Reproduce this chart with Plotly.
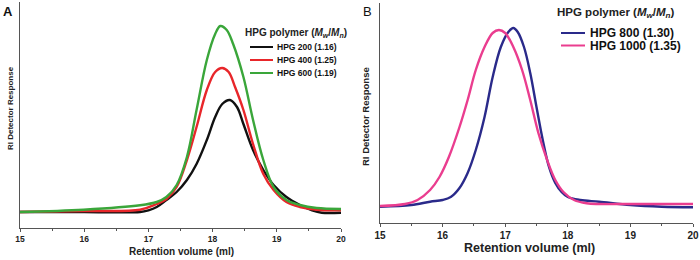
import plotly.graph_objects as go

# ---------------- data ----------------
# Panel A
a_x_200 = [15.0, 16.0, 16.87, 17.0, 17.13, 17.28, 17.44, 17.6, 17.75, 17.91, 18.04, 18.15, 18.27, 18.38, 18.48, 18.63, 18.79, 18.95, 19.15, 19.36, 19.55, 19.7, 20.0]
a_y_200 = [0, 0, 0, 1.7, 5, 12, 20, 32, 48, 72, 95, 108, 112, 105, 88, 62, 42, 27, 15, 7, 1.7, -0.7, -0.7]

a_x_400 = [15.0, 16.0, 16.87, 17.13, 17.28, 17.44, 17.6, 17.75, 17.91, 18.04, 18.15, 18.25, 18.35, 18.48, 18.63, 18.79, 18.95, 19.15, 19.36, 19.62, 20.0]
a_y_400 = [0, 1, 2.3, 8, 13, 25, 52, 85, 122, 140, 144, 140, 125, 102, 68, 38, 22, 10, 5, 2.3, 1.7]

a_x_600 = [15.0, 15.99, 16.87, 17.13, 17.28, 17.44, 17.6, 17.75, 17.91, 18.04, 18.12, 18.22, 18.32, 18.48, 18.63, 18.79, 18.95, 19.15, 19.36, 19.62, 20.0]
a_y_600 = [0, 2.3, 6.7, 10, 15, 27, 55, 102, 152, 178, 186, 182, 168, 135, 92, 52, 25, 12, 7, 4, 3]

# Panel B
b_x_800 = [15.0, 15.5, 15.8, 16.0, 16.13, 16.27, 16.4, 16.53, 16.67, 16.8, 16.93, 17.05, 17.13, 17.2, 17.3, 17.4, 17.5, 17.6, 17.7, 17.8, 17.9, 18.0, 18.2, 18.5, 19.0, 19.5, 20.0]
b_y_800 = [-1.7, 0, 3.3, 5, 8, 17, 32, 55, 88, 128, 158, 173, 177, 173, 158, 132, 98, 65, 38, 22, 13, 8, 5, 3.3, 0, -1.7, -2.3]

b_x_1000 = [15.0, 15.4, 15.6, 15.8, 15.95, 16.1, 16.27, 16.4, 16.53, 16.67, 16.8, 16.9, 17.0, 17.13, 17.27, 17.4, 17.53, 17.67, 17.8, 17.93, 18.1, 18.3, 18.5, 19.0, 20.0]
b_y_1000 = [-1, 1, 5, 15, 28, 48, 78, 105, 135, 158, 172, 175, 172, 158, 135, 105, 72, 45, 25, 13, 5, 1.7, 1, 1, 1]

names_a = ["HPG 200 (1.16)", "HPG 400 (1.25)", "HPG 600 (1.19)"]
names_b = ["HPG 800 (1.30)", "HPG 1000 (1.35)"]
x_ticks = [15, 16, 17, 18, 19, 20]
x_tick_labels = ["15", "16", "17", "18", "19", "20"]

# ---------------- styles ----------------
FONT = "Arial, 'Liberation Sans', sans-serif"
col_a = ["#111111", "#e8262a", "#3aa63a"]
col_b = ["#2a2a8a", "#ea3d8f"]
AXC = "#555555"

fig = go.Figure()
for xs, ys, nm, c in zip([a_x_200, a_x_400, a_x_600], [a_y_200, a_y_400, a_y_600], names_a, col_a):
    fig.add_trace(go.Scatter(x=xs, y=ys, name=nm, mode="lines", line=dict(color=c, width=2.4, shape="spline", smoothing=1.0),
                             xaxis="x", yaxis="y", showlegend=False))
for xs, ys, nm, c in zip([b_x_800, b_x_1000], [b_y_800, b_y_1000], names_b, col_b):
    fig.add_trace(go.Scatter(x=xs, y=ys, name=nm, mode="lines", line=dict(color=c, width=2.4, shape="spline", smoothing=1.0),
                             xaxis="x2", yaxis="y2", showlegend=False))

def xax(domain, anchor, size):
    return dict(domain=domain, anchor=anchor, range=[15, 20], tickvals=x_ticks, ticktext=x_tick_labels,
                ticks="outside", ticklen=3, tickwidth=1, tickcolor=AXC, showline=True, linecolor=AXC, linewidth=1.3,
                showgrid=False, zeroline=False,
                tickfont=dict(family=FONT, size=size, color="#222", weight="bold"),
                minor=dict(tickvals=[15.5, 16.5, 17.5, 18.5, 19.5], ticks="outside", ticklen=2, tickcolor=AXC))

def yax(domain, anchor, rng):
    return dict(domain=domain, anchor=anchor, range=rng, showticklabels=False, ticks="", showline=True,
                linecolor=AXC, linewidth=1.3, showgrid=False, zeroline=False)

W, H = 700, 260
ML, MR, MT, MB = 20, 7, 2, 32
PW, PH = W - ML - MR, H - MT - MB

def px(x):
    return (x - ML) / PW

def py(y):
    return 1 - (y - MT) / PH

fig.update_layout(
    width=W, height=H, margin=dict(l=ML, r=MR, t=MT, b=MB),
    paper_bgcolor="white", plot_bgcolor="white", showlegend=False,
    xaxis=xax([0, px(341)], "y", 8.5),
    yaxis=yax([0, 1], "x", [-16, 210]),
    xaxis2=xax([px(380), px(693)], "y2", 10),
    yaxis2=yax([py(223), py(3)], "x2", [-18, 202]),
)

ann = []
def text(x, y, s, size, bold=True, xanchor="center", textangle=0, color="#222"):
    ann.append(dict(xref="paper", yref="paper", x=px(x), y=py(y), text=s, showarrow=False, xanchor=xanchor,
                    yanchor="middle", textangle=textangle,
                    font=dict(family=FONT, size=size, color=color, weight="bold" if bold else "normal")))

# panel labels
text(1, 12, "A", 13, xanchor="left", color="#111")
text(361, 12, "B", 13, bold=False, xanchor="left", color="#111")
# axis titles
text(181, 251, "Retention volume (ml)", 10)
text(529, 248, "Retention volume (ml)", 12.5)
text(10, 108, "RI Detector Response", 8, textangle=-90)
text(365, 116, "RI Detector Response", 9.5, textangle=-90)

# legend A
text(243, 33, "HPG polymer (<i>M</i><sub><i>w</i></sub>/<i>M</i><sub><i>n</i></sub>)", 10, xanchor="left")
shapes = []
for i, (nm, c) in enumerate(zip(names_a, col_a)):
    yy = 47 + 13 * i
    shapes.append(dict(type="line", xref="paper", yref="paper", x0=px(250), x1=px(273), y0=py(yy), y1=py(yy),
                       line=dict(color=c, width=2)))
    text(275, yy, nm, 8.5, xanchor="left", color="#111")
# legend B
text(555, 13, "HPG polymer (<i>M</i><sub><i>w</i></sub>/<i>M</i><sub><i>n</i></sub>)", 11.5, xanchor="left")
for i, (nm, c) in enumerate(zip(names_b, col_b)):
    yy = 33 + 12.5 * i
    shapes.append(dict(type="line", xref="paper", yref="paper", x0=px(561), x1=px(585), y0=py(yy), y1=py(yy),
                       line=dict(color=c, width=2)))
    text(588, yy, nm, 12, xanchor="left", color="#111")

fig.update_layout(annotations=ann, shapes=shapes)
fig.write_html("out.html", config={"displayModeBar": False},
               post_script="document.body.style.margin='0';document.body.style.overflow='hidden';")
